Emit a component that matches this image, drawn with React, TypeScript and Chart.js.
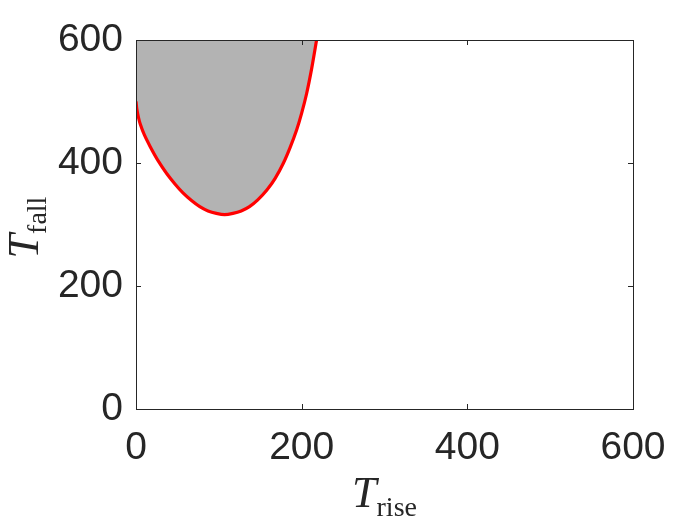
import React, { useEffect, useRef } from "react";
import { Chart, registerables } from "chart.js";

Chart.register(...registerables);

const curveX = [0, 1, 3, 5, 10, 17, 27, 37, 47, 57, 67, 77, 87, 97, 107, 117, 127, 137, 147, 158, 168, 178, 186, 194, 200, 206, 212, 218, 222];
const curveY = [500, 488, 474, 464, 446, 427, 403, 383, 366, 351, 339, 329, 322, 318, 316, 318, 322, 329, 340, 356, 375, 400, 425, 454, 481, 513, 553, 600, 632];
const xTicks = [0, 200, 400, 600];
const yTicks = [0, 200, 400, 600];
const xTitleMain = "T";
const xTitleSub = "rise";
const yTitleMain = "T";
const yTitleSub = "fall";

const INK = "#262626";
const TICK_FONT = "'Liberation Sans', Arial, Helvetica, sans-serif";
const SERIF = "'Liberation Serif', 'DejaVu Serif', serif";

const framePlugin = {
  id: "frame",
  afterDatasetsDraw(chart: any) {
    const { ctx, chartArea } = chart;
    const { left, right, top, bottom } = chartArea;
    const xs = chart.scales.x;
    const ys = chart.scales.y;
    ctx.save();
    ctx.strokeStyle = INK;
    ctx.lineWidth = 1;
    ctx.strokeRect(Math.round(left) + 0.5, Math.round(top) + 0.5, Math.round(right - left), Math.round(bottom - top));
    const tl = 5;
    ctx.beginPath();
    xTicks.forEach((v) => {
      const px = Math.round(xs.getPixelForValue(v)) + 0.5;
      ctx.moveTo(px, bottom);
      ctx.lineTo(px, bottom - tl);
      ctx.moveTo(px, top);
      ctx.lineTo(px, top + tl);
    });
    yTicks.forEach((v) => {
      const py = Math.round(ys.getPixelForValue(v)) + 0.5;
      ctx.moveTo(left, py);
      ctx.lineTo(left + tl, py);
      ctx.moveTo(right, py);
      ctx.lineTo(right - tl, py);
    });
    ctx.stroke();
    ctx.restore();
  },
  afterDraw(chart: any) {
    const { ctx, chartArea } = chart;
    const cx = (chartArea.left + chartArea.right) / 2;
    const cy = (chartArea.top + chartArea.bottom) / 2;
    const mainFont = "italic 44px " + SERIF;
    const subFont = "28px " + SERIF;
    ctx.save();
    ctx.fillStyle = INK;
    ctx.textBaseline = "alphabetic";
    ctx.textAlign = "left";
    // x title
    ctx.font = mainFont;
    const wT = ctx.measureText(xTitleMain).width;
    ctx.font = subFont;
    const wS = ctx.measureText(xTitleSub).width;
    let sx = cx - (wT + wS) / 2;
    ctx.font = mainFont;
    ctx.fillText(xTitleMain, sx, 507);
    ctx.font = subFont;
    ctx.fillText(xTitleSub, sx + wT, 516);
    // y title
    ctx.font = mainFont;
    const wT2 = ctx.measureText(yTitleMain).width;
    ctx.font = subFont;
    const wS2 = ctx.measureText(yTitleSub).width;
    ctx.translate(38, cy + 3);
    ctx.rotate(-Math.PI / 2);
    sx = -(wT2 + wS2) / 2;
    ctx.font = mainFont;
    ctx.fillText(yTitleMain, sx, 0);
    ctx.font = subFont;
    ctx.fillText(yTitleSub, sx + wT2, 8);
    ctx.restore();
  },
};

export default function App() {
  const ref = useRef<HTMLCanvasElement | null>(null);
  useEffect(() => {
    if (!ref.current) return;
    const points = curveX.map((x, i) => ({ x, y: curveY[i] }));
    const chart = new Chart(ref.current, {
      type: "line",
      data: {
        datasets: [
          {
            data: points,
            borderColor: "#ff0000",
            borderWidth: 3.2,
            backgroundColor: "#b3b3b3",
            fill: "end",
            pointRadius: 0,
            tension: 0.3,
          },
        ],
      },
      options: {
        animation: false,
        responsive: false,
        maintainAspectRatio: false,
        devicePixelRatio: 1,
        layout: { padding: { top: 40, right: 67, left: 0, bottom: 0 } },
        plugins: { legend: { display: false }, tooltip: { enabled: false } },
        scales: {
          x: {
            type: "linear",
            min: 0,
            max: 600,
            afterBuildTicks: (s: any) => {
              s.ticks = xTicks.map((v) => ({ value: v }));
            },
            afterFit: (s: any) => {
              s.height = 116;
            },
            grid: { display: false, drawTicks: false },
            border: { display: false },
            ticks: { color: INK, font: { family: TICK_FONT, size: 39 }, padding: 16, maxRotation: 0 },
          },
          y: {
            type: "linear",
            min: 0,
            max: 600,
            afterBuildTicks: (s: any) => {
              s.ticks = yTicks.map((v) => ({ value: v }));
            },
            afterFit: (s: any) => {
              s.width = 136;
            },
            grid: { display: false, drawTicks: false },
            border: { display: false },
            ticks: { color: INK, font: { family: TICK_FONT, size: 39 }, padding: 13 },
          },
        },
      },
      plugins: [framePlugin],
    });
    return () => chart.destroy();
  }, []);
  return (
    <div style={{ position: "fixed", left: 0, top: 0, width: 700, height: 525, background: "#fff" }}>
      <canvas ref={ref} width={700} height={525} style={{ width: 700, height: 525, display: "block" }} />
    </div>
  );
}
